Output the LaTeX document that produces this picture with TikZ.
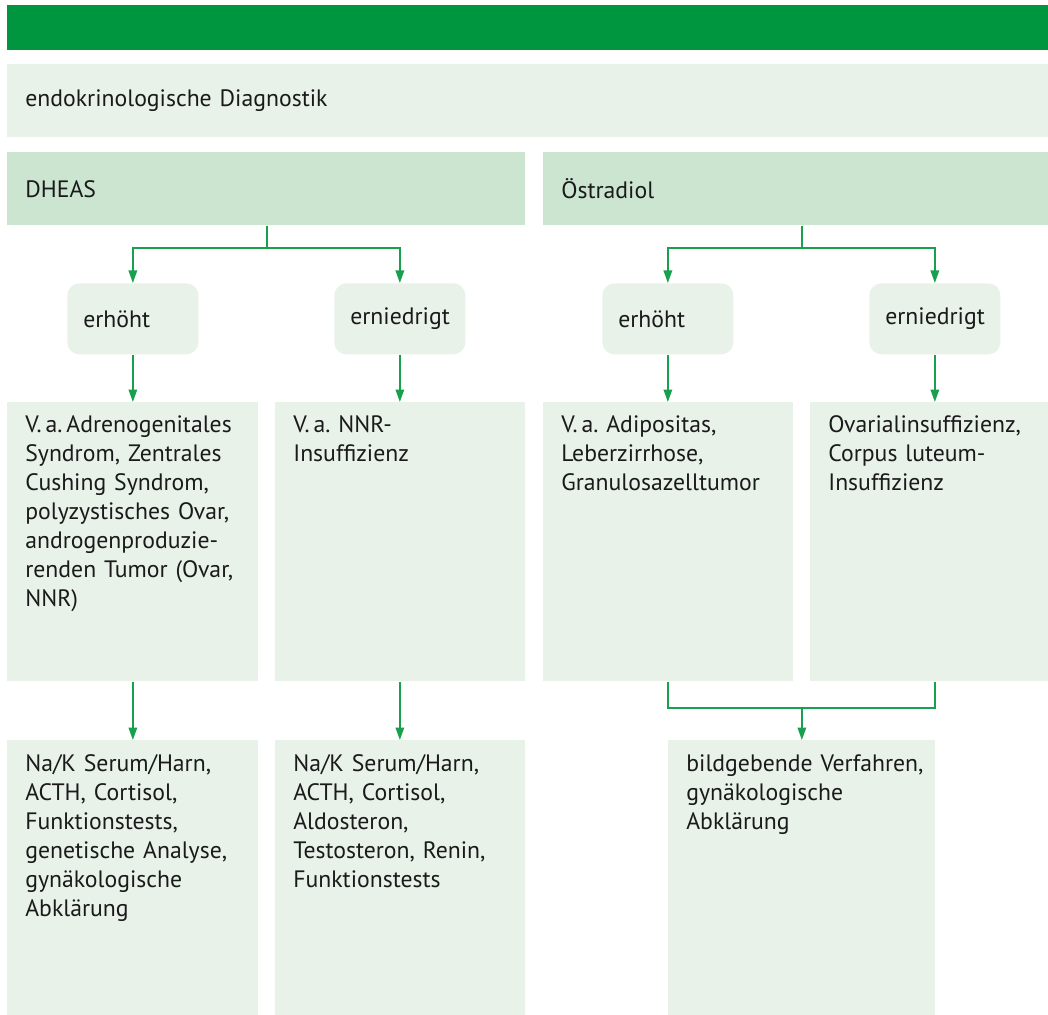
\documentclass[tikz,border=0pt]{standalone}
\usepackage{fontspec}
\setmainfont{PT Sans}
\usetikzlibrary{arrows.meta,calc,positioning}
\definecolor{barGreen}{RGB}{0,150,64}
\definecolor{lineGreen}{RGB}{24,160,78}
\definecolor{paleGreen}{RGB}{232,242,233}
\definecolor{midGreen}{RGB}{204,229,209}
\definecolor{inkGray}{RGB}{26,26,26}

\begin{document}
\begin{tikzpicture}[every node/.style={font=\fontsize{13.5}{16.5}\selectfont, text=inkGray, inner ysep=0pt, inner xsep=0.36cm, align=left, anchor=north west},
    head/.style={fill=midGreen, minimum height=1.46cm},
    level/.style={fill=paleGreen, rounded corners=0.24cm, minimum height=1.42cm, inner xsep=0.32cm, text width=1.98cm},
    panel/.style={fill=paleGreen, text height=0.6cm},
    link/.style={draw=lineGreen, line width=0.95pt},
    arrow/.style={link, -{Triangle[width=0.17cm,length=0.25cm]}}]
    \useasboundingbox (0,0) rectangle (20.96,-20.3);
    \node[fill=barGreen, minimum width=20.82cm, minimum height=0.9cm, inner sep=0pt] (bar) at (0.14,-0.1) {};
    \node[head, fill=paleGreen, text width=20.1cm] (diag) at (0.14,-1.28) {endokrinologische Diagnostik};
    \node[head, text width=9.64cm] (dheas) at (0.14,-3.04) {DHEAS};
    \node[head, text width=9.38cm] (oest) at (10.86,-3.04) {Östradiol};

    \node[level] (dhHi) at (1.34,-5.66) {erhöht};
    \node[level] (dhLo) at (6.68,-5.66) {erniedrigt};
    \node[level] (oeHi) at (12.04,-5.66) {erhöht};
    \node[level] (oeLo) at (17.38,-5.66) {erniedrigt};

    \node[panel, text width=4.3cm, text depth=4.98cm] (res1) at (0.14,-8.04) {V.\,a.\,Adrenogenitales\\Syndrom, Zentrales\\Cushing Syndrom,\\polyzystisches Ovar,\\androgenproduzie-\\renden Tumor (Ovar,\\NNR)};
    \node[panel, text width=4.28cm, text depth=4.98cm] (res2) at (5.5,-8.04) {V.\,a.\ NNR-\\Insuffizienz};
    \node[panel, text width=4.28cm, text depth=4.98cm] (res3) at (10.86,-8.04) {V.\,a.\ Adipositas,\\Leberzirrhose,\\Granulosazelltumor};
    \node[panel, text width=4.04cm, text depth=4.98cm] (res4) at (16.2,-8.04) {Ovarialinsuffizienz,\\Corpus luteum-\\Insuffizienz};

    \node[panel, text height=0.62cm, text width=4.3cm, text depth=4.88cm] (bot1) at (0.14,-14.8) {Na/K Serum/Harn,\\ACTH, Cortisol,\\Funktionstests,\\genetische Analyse,\\gynäkologische\\Abklärung};
    \node[panel, text height=0.62cm, text width=4.28cm, text depth=4.88cm] (bot2) at (5.5,-14.8) {Na/K Serum/Harn,\\ACTH, Cortisol,\\Aldosteron,\\Testosteron, Renin,\\Funktionstests};
    \node[panel, text height=0.62cm, text width=4.62cm, text depth=4.88cm] (bot3) at (13.36,-14.8) {\mbox{bildgebende Verfahren,}\\gynäkologische\\Abklärung};

    \coordinate (dhJoin) at ($(dhHi.north)!0.5!(dhLo.north)+(0.01,0.7)$);
    \coordinate (oeJoin) at ($(oeHi.north)!0.5!(oeLo.north)+(0.01,0.7)$);
    \draw[link] (dheas.south -| dhJoin) -- (dhJoin);
    \draw[arrow] (dhJoin) -| (dhHi.north);
    \draw[arrow] (dhJoin) -| (dhLo.north);
    \draw[link] (oest.south -| oeJoin) -- (oeJoin);
    \draw[arrow] (oeJoin) -| (oeHi.north);
    \draw[arrow] (oeJoin) -| (oeLo.north);

    \draw[arrow] (dhHi.south) -- (dhHi.south |- res1.north);
    \draw[arrow] (dhLo.south) -- (dhLo.south |- res2.north);
    \draw[arrow] (oeHi.south) -- (oeHi.south |- res3.north);
    \draw[arrow] (oeLo.south) -- (oeLo.south |- res4.north);

    \draw[arrow] (res1.south -| dhHi.south) -- (bot1.north -| dhHi.south);
    \draw[arrow] (res2.south -| dhLo.south) -- (bot2.north -| dhLo.south);
    \coordinate (merge) at ($(bot3.north)+(0,0.64)$);
    \draw[link] (res3.south -| oeHi.south) |- (merge) -| (res4.south -| oeLo.south);
    \draw[arrow] (merge) -- (bot3.north);
\end{tikzpicture}
\end{document}
